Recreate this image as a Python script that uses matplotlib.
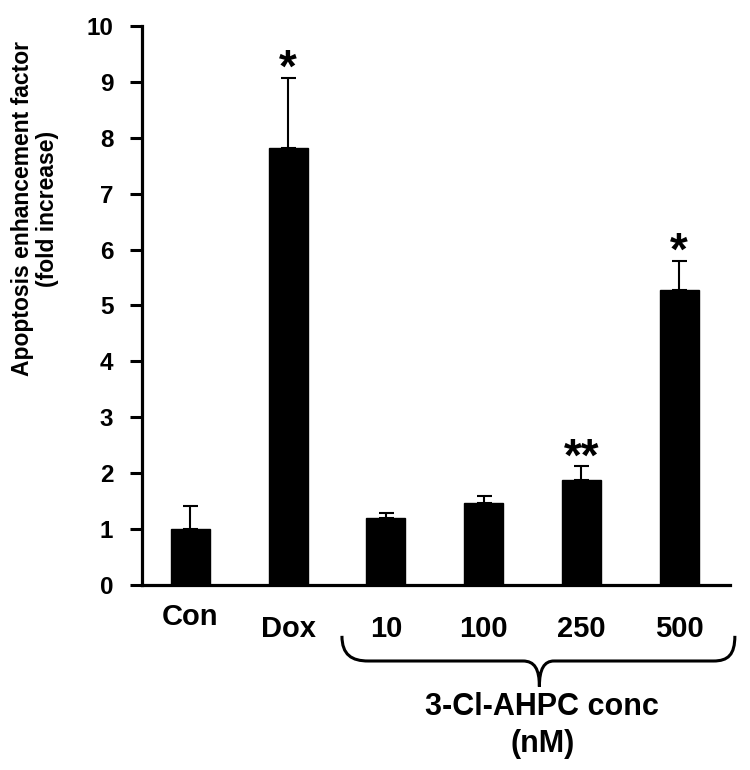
import numpy as np
import matplotlib
matplotlib.use('Agg')
import matplotlib.pyplot as plt
from matplotlib.path import Path
from matplotlib.patches import PathPatch

plt.rcParams['font.family'] = ['Liberation Sans', 'DejaVu Sans']
plt.rcParams['font.weight'] = 'bold'

# Data
groups = ['Con', 'Dox', '10', '100', '250', '500']
fold_increase = [1.00, 7.82, 1.19, 1.47, 1.88, 5.28]
sem = [0.42, 1.25, 0.09, 0.13, 0.24, 0.52]
stars = ['', '*', '', '', '**', '*']
y_ticks = list(range(0, 11))

fig = plt.figure(figsize=(7.5, 7.7), dpi=100)
ax = fig.add_axes([0.1893, 0.2403, 0.784, 0.726])

x = np.arange(len(groups))
ax.bar(x, fold_increase, width=0.4, color='black', edgecolor='black', zorder=2)
ax.errorbar(x, fold_increase, yerr=[np.zeros(len(sem)), sem], fmt='none',
            ecolor='black', elinewidth=1.5, capsize=5.4, capthick=1.5, zorder=1)

ax.set_xlim(-0.496, 5.52)
ax.set_ylim(0, 10)
ax.set_yticks(y_ticks)
ax.tick_params(axis='y', length=8.6, width=2.2, pad=12, labelsize=17.5)
ax.set_xticks([])
for s in ['top', 'right']:
    ax.spines[s].set_visible(False)
ax.spines['left'].set_linewidth(2.3)
ax.spines['bottom'].set_linewidth(2.3)

# group labels under the axis (Con sits a bit higher)
for i, g in enumerate(groups):
    off = -40 if g == 'Con' else -52
    ax.annotate(g, xy=(i, 0), xycoords=('data', 'axes fraction'),
                xytext=(0, off), textcoords='offset pixels',
                ha='center', va='baseline', fontsize=21, fontweight='bold',
                annotation_clip=False)

# significance stars
for i, s in enumerate(stars):
    if s:
        ax.annotate(s, xy=(i, fold_increase[i] + sem[i]), xytext=(0, -4),
                    textcoords='offset pixels', ha='center', va='baseline',
                    fontsize=33, fontweight='bold')

# brace under the 3-Cl-AHPC groups
trans = ax.get_xaxis_transform()
verts = [(1.55, -0.091), (1.55, -0.125), (1.65, -0.136), (1.82, -0.136),
         (3.40, -0.136),
         (3.52, -0.136), (3.57, -0.150), (3.57, -0.182),
         (3.57, -0.150), (3.62, -0.136), (3.72, -0.136),
         (5.35, -0.136),
         (5.50, -0.136), (5.57, -0.125), (5.57, -0.091)]
codes = [Path.MOVETO, Path.CURVE4, Path.CURVE4, Path.CURVE4,
         Path.LINETO,
         Path.CURVE4, Path.CURVE4, Path.CURVE4,
         Path.CURVE4, Path.CURVE4, Path.CURVE4,
         Path.LINETO,
         Path.CURVE4, Path.CURVE4, Path.CURVE4]
brace = PathPatch(Path(verts, codes), transform=trans, fill=False,
                  edgecolor='black', linewidth=2.2, clip_on=False)
ax.add_patch(brace)

ax.text(3.6, -0.2326, '3-Cl-AHPC conc', transform=trans, ha='center',
        va='baseline', fontsize=22, fontweight='bold')
ax.text(3.6, -0.2987, '(nM)', transform=trans, ha='center',
        va='baseline', fontsize=22, fontweight='bold')

fig.text(0.047, 0.729, 'Apoptosis enhancement factor\n(fold increase)',
         rotation=90, ha='center', va='center', multialignment='center',
         fontsize=16.5, fontweight='bold', linespacing=1.1)

fig.savefig('out.png', dpi=100)
